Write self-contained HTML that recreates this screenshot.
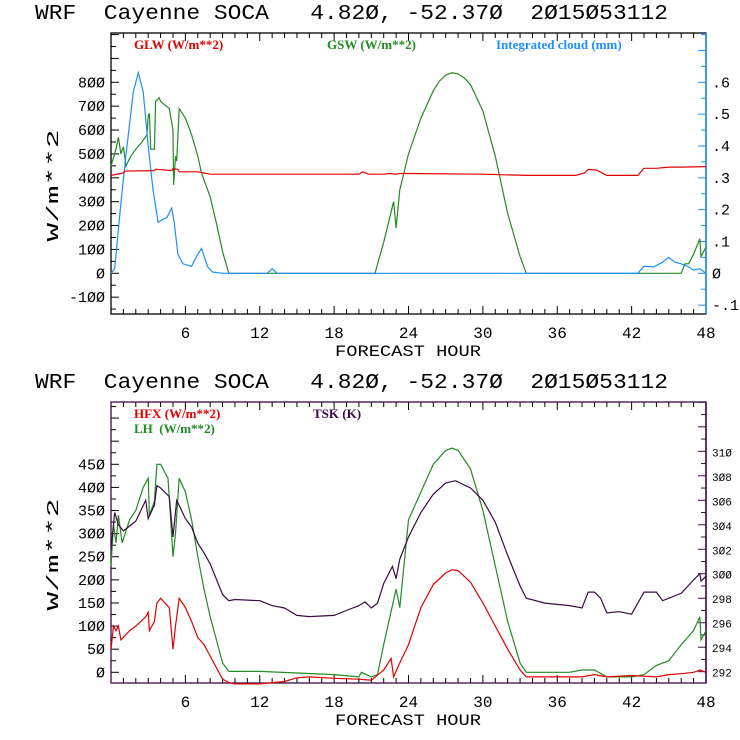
<!DOCTYPE html>
<html><head><meta charset="utf-8"><style>
html,body{margin:0;padding:0;background:#fff;}
svg{display:block;font-family:"Liberation Mono",monospace;}
text{white-space:pre;}
</style></head><body>
<svg id="s" width="740" height="740" viewBox="0 0 740 740"></svg>
<script>
// ---- top panel data ----
const glwHours=[0,1,1.1,3.5,3.6,4.9,5,5.4,5.5,7,7.5,8,20,20.3,20.8,22,22.5,23,23.3,24,30,33.5,37.5,38.2,38.5,39.2,40,42.5,43,44,45,46,48];
const glwVals=[410,420,428,430,436,430,438,435,425,425,420,415,415,425,415,415,418,415,418,418,415,410,410,420,435,432,410,410,440,440,445,445,447];
const gswHours=[0,0.4,0.6,0.8,1,1.2,1.6,2,2.5,2.9,3.0,3.1,3.2,3.5,3.6,3.9,4,4.7,5,5.05,5.2,5.3,5.5,6,6.5,7,7.3,8,8.5,9,9.5,21.3,22,22.8,23,23.3,24,25,26,26.5,27,27.5,28,28.5,29,30,31,32,33,33.5,46,46.3,46.6,47,47.5,47.6,48];
const gswVals=[450,520,570,500,530,450,490,520,550,580,660,670,520,520,720,735,720,690,600,370,490,470,690,650,580,490,420,320,210,90,0,0,130,300,190,350,500,650,765,805,830,840,835,818,790,680,490,250,70,0,0,40,40,80,145,70,110];
const cloudHours=[0,0.3,0.8,1.2,1.8,2.2,2.6,3,3.4,3.8,4.2,4.5,4.9,5.1,5.4,5.8,6.5,7,7.3,7.8,8.2,9,12.6,13,13.4,20,42.5,43,43.8,44.5,45,45.5,46,46.5,47,47.5,48];
const cloudVals=[0,0.015,0.22,0.37,0.57,0.63,0.57,0.4,0.26,0.16,0.17,0.175,0.205,0.16,0.06,0.03,0.022,0.06,0.078,0.02,0.004,0,0,0.014,0,0,0,0.022,0.02,0.035,0.05,0.035,0.03,0.022,0.01,0.014,0];
// ---- bottom panel data ----
const hfxHours=[0,0.2,0.4,0.6,0.8,1.5,2,2.8,3,3.1,3.5,3.7,4,4.7,5,5.2,5.5,6,6.5,7,7.5,8,8.5,9,9.5,10,12,14,15,16,18,20,21,22,22.6,22.8,23.2,24,25,26,27,27.5,28,29,30,31,32,33,33.5,36,38,39,40,42,44,45,46,47,47.5,48];
const hfxVals=[50,100,90,100,70,90,100,120,130,90,110,150,160,140,50,100,160,140,110,75,60,35,10,-15,-22,-25,-25,-20,-12,-10,-13,-15,-17,5,30,-10,15,60,140,190,215,222,220,195,150,100,50,5,-10,-10,-10,-5,-10,-7,-10,-5,-3,0,5,0];
const lhHours=[0,0.2,0.4,0.6,0.9,1.5,2,2.6,3,3.1,3.5,3.7,4,4.6,5,5.2,5.5,6,6.5,7,7.5,8,8.5,9,9.5,12,18,20,20.2,21,21.5,22,23,23.3,24,25,26,27,27.5,28,29,30,31,32,33,33.5,37,38,39,40,42,43,44,45,46,47,47.5,47.6,48];
const lhVals=[230,320,280,340,280,330,350,400,420,340,370,450,450,420,250,300,420,390,330,250,180,120,70,20,2,2,-5,-10,0,-10,-5,60,180,140,330,390,450,480,485,480,440,350,230,110,20,0,0,5,5,-10,-10,-5,15,25,60,90,120,70,90];
const tskHours=[0,0.3,0.6,1,2,2.8,3,3.5,3.7,4,4.7,5,5.3,6,6.5,7,7.5,8,9,9.5,10,12,13,14,15,16,18,19,20,20.5,21,21.5,22,22.7,23,23.3,24,25,26,27,27.8,29,30,31,32,33,33.5,35,37,38,38.5,39,39.5,40,41,42,43,44,44.5,46,47,47.5,47.6,48];
const tskVals=[302,305,304,303.5,304.3,306,304.5,305.6,307.2,307,306.3,303,306,304.5,303.8,302.5,301.7,300.8,298.3,297.8,297.9,297.8,297.4,297.2,296.6,296.5,296.6,297,297.4,297.7,297.2,297.6,299.2,300.6,299.6,301.2,303,305,306.5,307.4,307.6,307,306,304.2,301.5,299,298,297.6,297.4,297.2,298.5,298.5,298,296.8,296.9,296.7,298.5,298.5,297.8,298.4,299.5,300,299.4,299.8];
const xTicks=[6,12,18,24,30,36,42,48];
const topLeftTicks=[-100,0,100,200,300,400,500,600,700,800];
const topRightTicks=[-0.1,0,0.1,0.2,0.3,0.4,0.5,0.6];
const botLeftTicks=[0,50,100,150,200,250,300,350,400,450];
const botRightTicks=[292,294,296,298,300,302,304,306,308,310];

const NS="http://www.w3.org/2000/svg";
const svg=document.getElementById('s');
function el(tag,attrs,parent,txt){const e=document.createElementNS(NS,tag);for(const k in attrs)e.setAttribute(k,attrs[k]);if(txt!==undefined)e.textContent=txt;(parent||svg).appendChild(e);return e;}
const L=111,R=706;
function xs(h){return L+(R-L)*h/48;}
function lin(v0,p0,v1,p1){return v=>p0+(v-v0)*(p1-p0)/(v1-v0);}

function panel(top,bottom,frameColor,rightColor,yl,yr,leftTicks,rightTicks,rfmt,name){
  const g=el('g',{});
  
  
  const t=el('text',{x:35,y:top-14,'font-size':21,textLength:633,lengthAdjust:'spacingAndGlyphs','xml:space':'preserve'},g,'WRF  Cayenne SOCA   4.82Ø, -52.37Ø  2Ø15Ø53112');
  
  
  for(let h=1;h<48;h++){const x=xs(h);const len=h%6===0?8:5;
    el('line',{x1:x,y1:bottom,x2:x,y2:bottom-len,stroke:'#000'},g);
    el('line',{x1:x,y1:top,x2:x,y2:top+len,stroke:'#000'},g);}
  xTicks.forEach(h=>{const tx=el('text',{x:xs(h),y:bottom+24,'font-size':16,'text-anchor':'middle'},g,String(h));
    
    });
  const xl=el('text',{x:408,y:bottom+42,'font-size':16,'text-anchor':'middle',textLength:146,lengthAdjust:'spacingAndGlyphs'},g,'FORECAST HOUR');
  
  
  const step=leftTicks[1]-leftTicks[0];
  for(let v=leftTicks[0]-step*2;v<=leftTicks[leftTicks.length-1]+step*4;v+=step/2){const y=yl(v);if(y<top||y>bottom)continue;
    el('line',{x1:L,y1:y,x2:L+(Math.abs((v/step)%1)<1e-6?8:5),y2:y,stroke:'#000'},g);}
  leftTicks.forEach(v=>{const tx=el('text',{x:L-6,y:yl(v)+5,'font-size':15,'text-anchor':'end'},g,String(v).replace(/0/g,'Ø'));
    
    });
  const rs=rightTicks[1]-rightTicks[0];
  for(let v=rightTicks[0]-rs*2;v<=rightTicks[rightTicks.length-1]+rs*4;v+=rs/2){const y=yr(v);if(y<top||y>bottom)continue;
    el('line',{x1:R,y1:y,x2:R-(Math.abs(Math.round(v/rs*2))%2===0?8:5),y2:y,stroke:rightColor},g);}
  rightTicks.forEach(v=>{const tx=el('text',{x:R+6,y:yr(v)+5,'font-size':rfmt.fs,fill:'#000'},g,rfmt.f(v));
    
    });
  const yt=el('text',{transform:`translate(${58},${(top+bottom)/2+12}) rotate(-90)`,'font-size':17,'text-anchor':'middle',textLength:112,lengthAdjust:'spacingAndGlyphs'},g,'W/m**2');
  
  
  el('rect',{x:L,y:top,width:R-L,height:bottom-top,fill:'none',stroke:frameColor,'stroke-width':1.3},g);
  el('line',{x1:R,y1:top,x2:R,y2:bottom,stroke:rightColor,'stroke-width':1.5},g);
  return g;
}
function series(hours,vals,ys,color,name){
  const pts=hours.map((h,i)=>xs(h).toFixed(1)+','+ys(vals[i]).toFixed(1)).join(' ');
  const p=el('polyline',{points:pts,fill:'none',stroke:color,'stroke-width':1.2});
  
  
}
function legend(x,y,txt,color,name){
  const t=el('text',{x:x,y:y,'font-size':13,fill:color,'font-family':'Liberation Serif, serif','font-weight':'bold','xml:space':'preserve'},svg,txt);
  
  
}
const tT=33,tB=314;
const yTop=lin(0,273.3,800,82.3);
const yTopR=lin(0,273.3,0.6,82.3);
panel(tT,tB,'#000','#1e8fff',yTop,yTopR,topLeftTicks,topRightTicks,{fs:15,f:v=>v===0?'Ø':(v<0?'-.':'.')+Math.round(Math.abs(v)*10)},'top-panel');
series(gswHours,gswVals,yTop,'#228b22','gsw-line');
series(cloudHours,cloudVals,yTopR,'#1e8fff','cloud-line');
series(glwHours,glwVals,yTop,'#e00000','glw-line');
legend(134,49,'GLW (W/m**2)','#e00000','legend-glw');
legend(327,49,'GSW (W/m**2)','#228b22','legend-gsw');
legend(496,49,'Integrated cloud (mm)','#1e8fff','legend-cloud');
const bT=402,bB=683;
const yBot=lin(0,672.3,450,464.3);
const yBotR=lin(292,671.7,310,451.3);
panel(bT,bB,'#3c0a46','#3c0a46',yBot,yBotR,botLeftTicks,botRightTicks,{fs:11,f:v=>String(v).replace(/0/g,'Ø')},'bottom-panel');
series(lhHours,lhVals,yBot,'#228b22','lh-line');
series(tskHours,tskVals,yBotR,'#3c0a46','tsk-line');
series(hfxHours,hfxVals,yBot,'#e00000','hfx-line');
legend(134,418,'HFX (W/m**2)','#e00000','legend-hfx');
legend(134,433,'LH  (W/m**2)','#228b22','legend-lh');
legend(313,418,'TSK (K)','#3c0a46','legend-tsk');
</script>
</body></html>
